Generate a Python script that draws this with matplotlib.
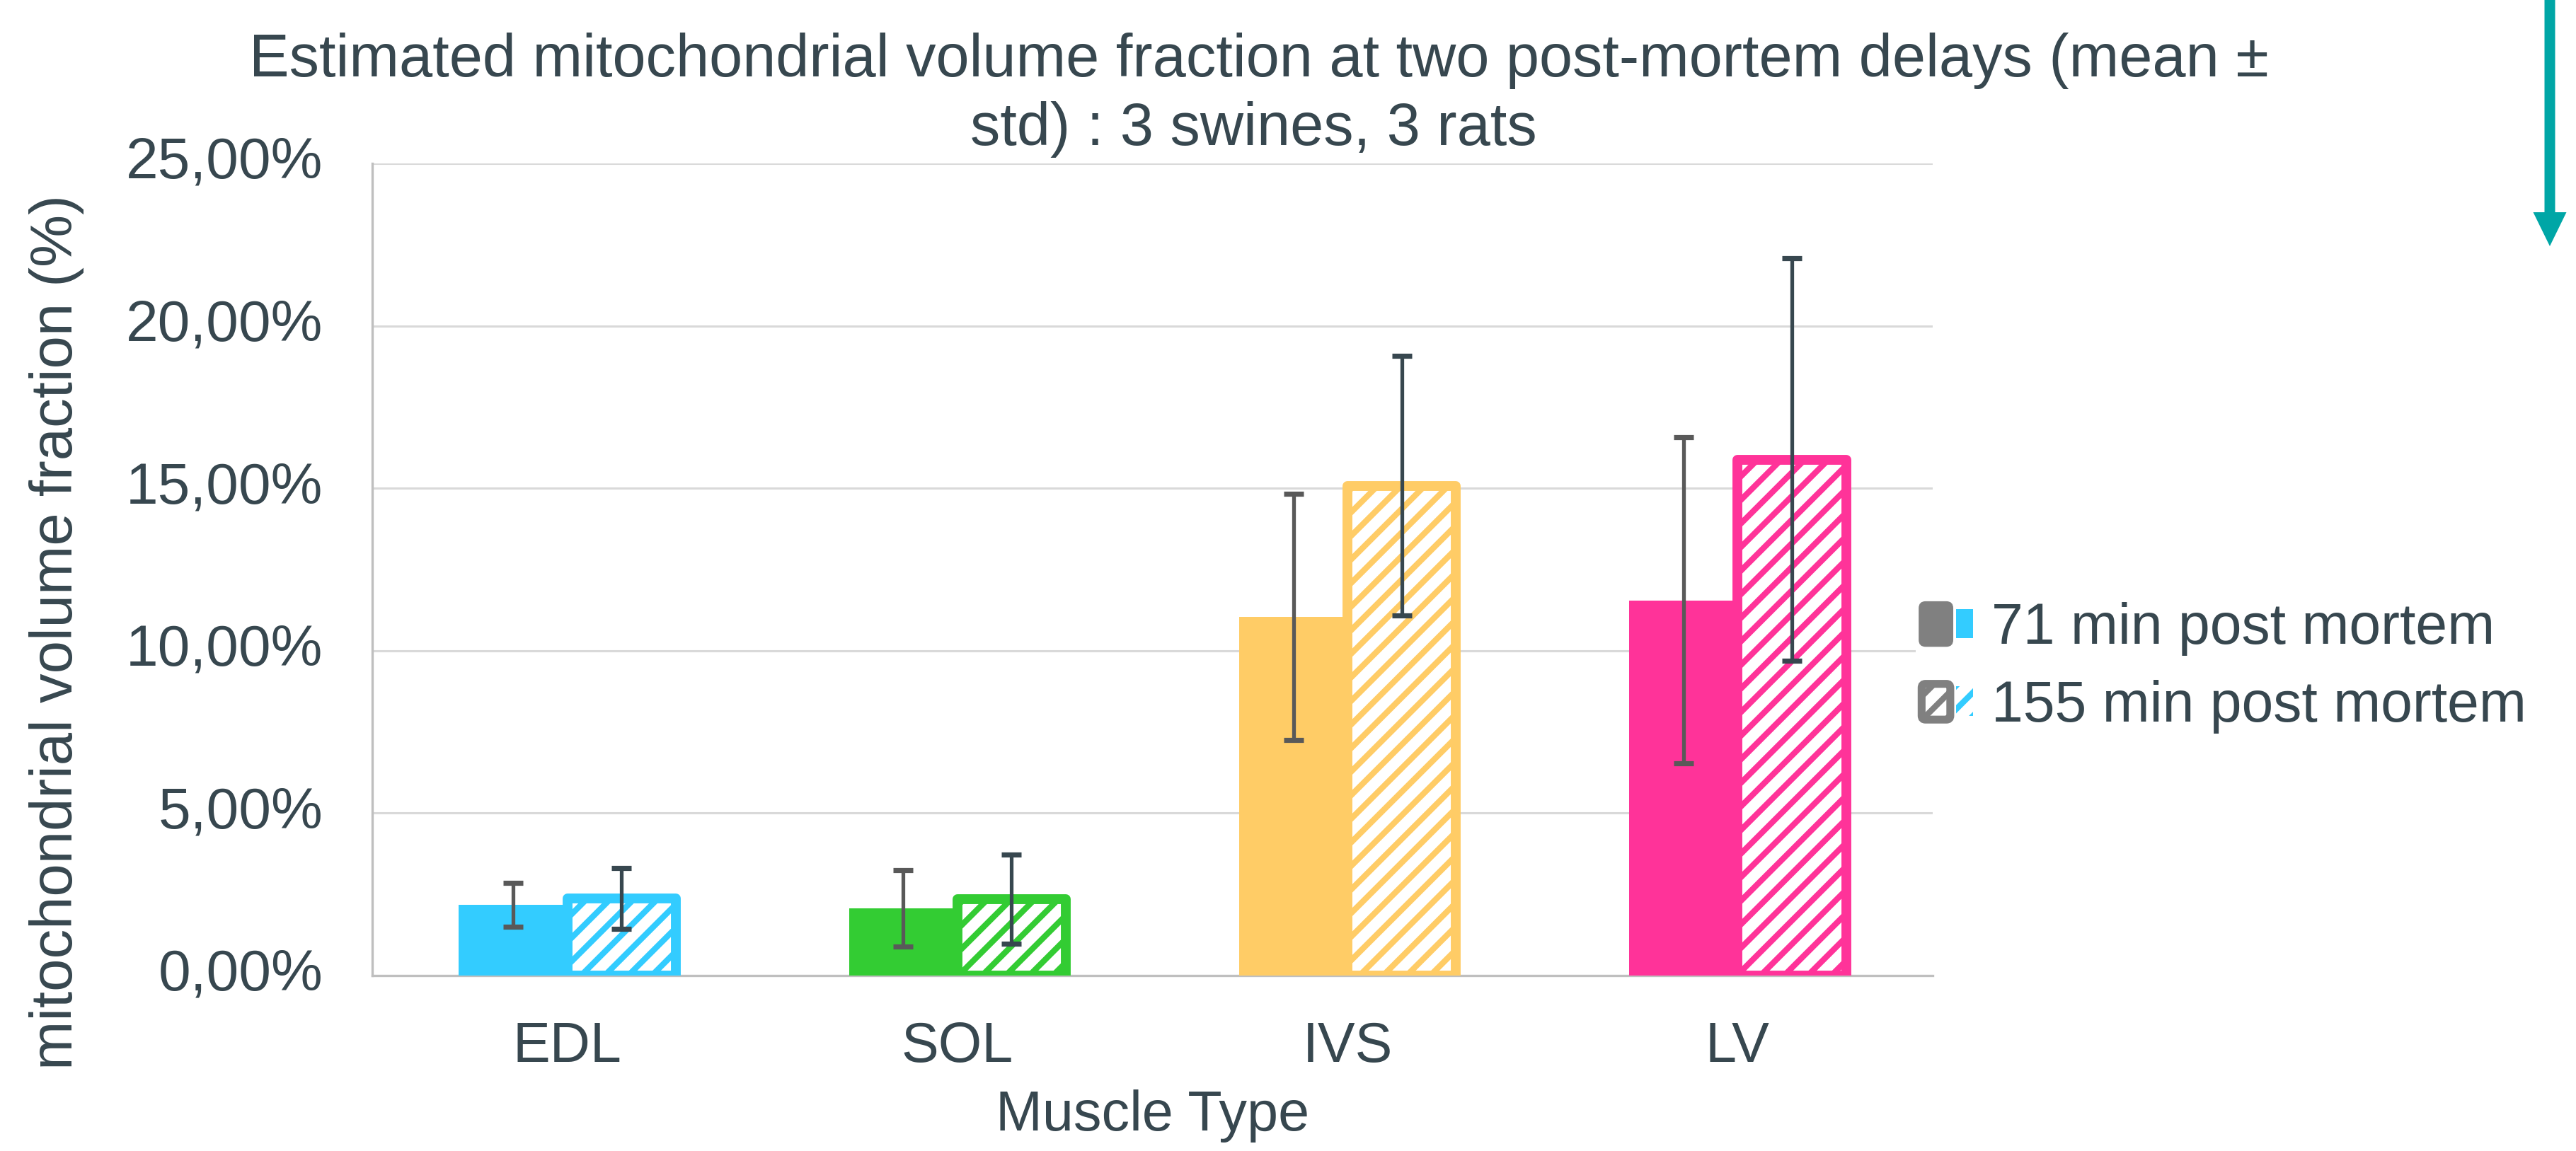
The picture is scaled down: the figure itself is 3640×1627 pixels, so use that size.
import matplotlib
matplotlib.use("Agg")
import matplotlib.pyplot as plt
import numpy as np
from matplotlib.patches import Rectangle, FancyBboxPatch, Polygon, Patch
from matplotlib.legend_handler import HandlerBase
from matplotlib.ticker import FuncFormatter, MultipleLocator

# ---------------- data ----------------
categories = ["EDL", "SOL", "IVS", "LV"]
series_labels = ["71 min post mortem", "155 min post mortem"]
mean_71 = [2.18, 2.07, 11.04, 11.55]
std_71 = [0.67, 1.18, 3.78, 5.02]
mean_155 = [2.37, 2.36, 15.08, 15.88]
std_155 = [0.93, 1.37, 4.00, 6.20]
bar_colors = ["#33CCFF", "#33CC33", "#FFCC66", "#FF3399"]
title_lines = ["Estimated mitochondrial volume fraction at two post-mortem delays (mean \u00b1",
               "std) : 3 swines, 3 rats"]
y_label = "mitochondrial volume fraction (%)"
x_label = "Muscle Type"

# ---------------- style ----------------
TXT = "#37474F"
plt.rcParams["font.family"] = ["Liberation Sans", "DejaVu Sans"]
plt.rcParams["hatch.linewidth"] = 3.0

W, H, DPI = 3640, 1627, 200
fig = plt.figure(figsize=(W / DPI, H / DPI), dpi=DPI)
fig.patch.set_facecolor("white")

ax_l, ax_r, ax_t, ax_b = 526, 2731, 231, 1379
ax = fig.add_axes([ax_l / W, 1 - ax_b / H, (ax_r - ax_l) / W, (ax_b - ax_t) / H])

x = np.arange(len(categories))
bw = 0.278

# solid bars (71 min)
ax.bar(x, mean_71, width=-bw, align="edge", color=bar_colors, linewidth=0, zorder=2)
# hatched bars (155 min)
ax.bar(x, mean_155, width=bw, align="edge", facecolor="white", edgecolor=bar_colors,
       hatch="//", linewidth=5.0, joinstyle="round", zorder=3)

# error bars
ax.errorbar(x - bw / 2, mean_71, yerr=std_71, fmt="none", ecolor="#595959",
            elinewidth=1.9, capsize=5, capthick=2.6, zorder=5)
ax.errorbar(x + bw / 2, mean_155, yerr=std_155, fmt="none", ecolor="#37474F",
            elinewidth=1.9, capsize=5, capthick=2.6, zorder=5)

ax.set_xlim(-0.5, len(categories) - 0.5)
ax.set_ylim(0, 25)
ax.yaxis.set_major_locator(MultipleLocator(5))
ax.yaxis.set_major_formatter(FuncFormatter(lambda v, p: f"{v:.2f}%".replace(".", ",")))
ax.set_xticks(x)
ax.set_xticklabels(categories)
ax.tick_params(axis="both", length=0, labelcolor=TXT)
ax.tick_params(axis="x", pad=23, labelsize=28.5)
ax.tick_params(axis="y", pad=25, labelsize=29.5)
for t in ax.get_yticklabels():
    t.set_verticalalignment("center")
ax.grid(axis="y", color="#D9D9D9", linewidth=1.1, zorder=0)
ax.set_axisbelow(True)
for s in ["top", "right"]:
    ax.spines[s].set_visible(False)
ax.spines["left"].set_color("#BFBFBF")
ax.spines["left"].set_linewidth(1.2)
ax.spines["bottom"].set_color("#BFBFBF")
ax.spines["bottom"].set_linewidth(1.2)
ax.spines["bottom"].set_zorder(1)

ax.set_xlabel(x_label, fontsize=28.5, color=TXT, labelpad=8)

# y label placed as in reference
fig.text(80 / W, 1 - 894 / H, y_label, rotation=90, ha="center", va="center",
         fontsize=30, color=TXT)

# title
fig.text(1779 / W, 1 - 108 / H, title_lines[0], ha="center", va="baseline",
         fontsize=30.5, color=TXT)
fig.text(1771 / W, 1 - 205 / H, title_lines[1], ha="center", va="baseline",
         fontsize=30.5, color=TXT)


# ---------------- legend ----------------
class SplitHandler(HandlerBase):
    def __init__(self, hatched):
        super().__init__()
        self.hatched = hatched

    def create_artists(self, legend, orig_handle, xdescent, ydescent, width, height,
                       fontsize, trans):
        x0, y0 = -xdescent, -ydescent
        gw = width * 0.71
        if not self.hatched:
            g = FancyBboxPatch((x0 + 2, y0), gw - 4, height,
                               boxstyle="round,pad=0,rounding_size=3",
                               facecolor="#808080", edgecolor="#808080", linewidth=1,
                               transform=trans)
            c = Rectangle((x0 + gw, y0 + height * 0.17), width - gw, height * 0.68,
                          facecolor="#33CCFF", edgecolor="none", transform=trans)
            return [g, c]
        g = FancyBboxPatch((x0 + 3, y0 + 2), gw - 6, height - 4,
                           boxstyle="round,pad=0,rounding_size=2",
                           facecolor="white", edgecolor="#808080", linewidth=4,
                           hatch="//", transform=trans)
        c = Rectangle((x0 + gw, y0 + height * 0.17), width - gw, height * 0.68,
                      facecolor="white", edgecolor="#33CCFF", linewidth=0,
                      hatch="//", transform=trans)
        return [c, g]


h1 = Patch(label=series_labels[0])
h2 = Patch(label=series_labels[1])
leg = fig.legend(handles=[h1, h2], labels=series_labels,
                 handler_map={h1: SplitHandler(False), h2: SplitHandler(True)},
                 loc="center left", bbox_to_anchor=(2707 / W, 1 - 944 / H),
                 fontsize=29, frameon=True, facecolor="white", edgecolor="none",
                 framealpha=1, fancybox=False, borderpad=0.0, borderaxespad=0,
                 handlelength=1.0, handleheight=0.8, handletextpad=0.33,
                 labelspacing=0.42)
for t in leg.get_texts():
    t.set_color(TXT)

# ---------------- decorative teal arrow (top right) ----------------
cx = 3603 / DPI
top = H / DPI
hs = top - 300 / DPI
tip = top - 348 / DPI
sw = 7.5 / DPI
hw = 23.5 / DPI
arrow = Polygon([(cx - sw, top), (cx + sw, top), (cx + sw, hs), (cx + hw, hs),
                 (cx, tip), (cx - hw, hs), (cx - sw, hs)], closed=True,
                facecolor="#00A6A6", edgecolor="none", transform=fig.dpi_scale_trans)
fig.add_artist(arrow)

fig.savefig("out.png", dpi=DPI, facecolor="white")
